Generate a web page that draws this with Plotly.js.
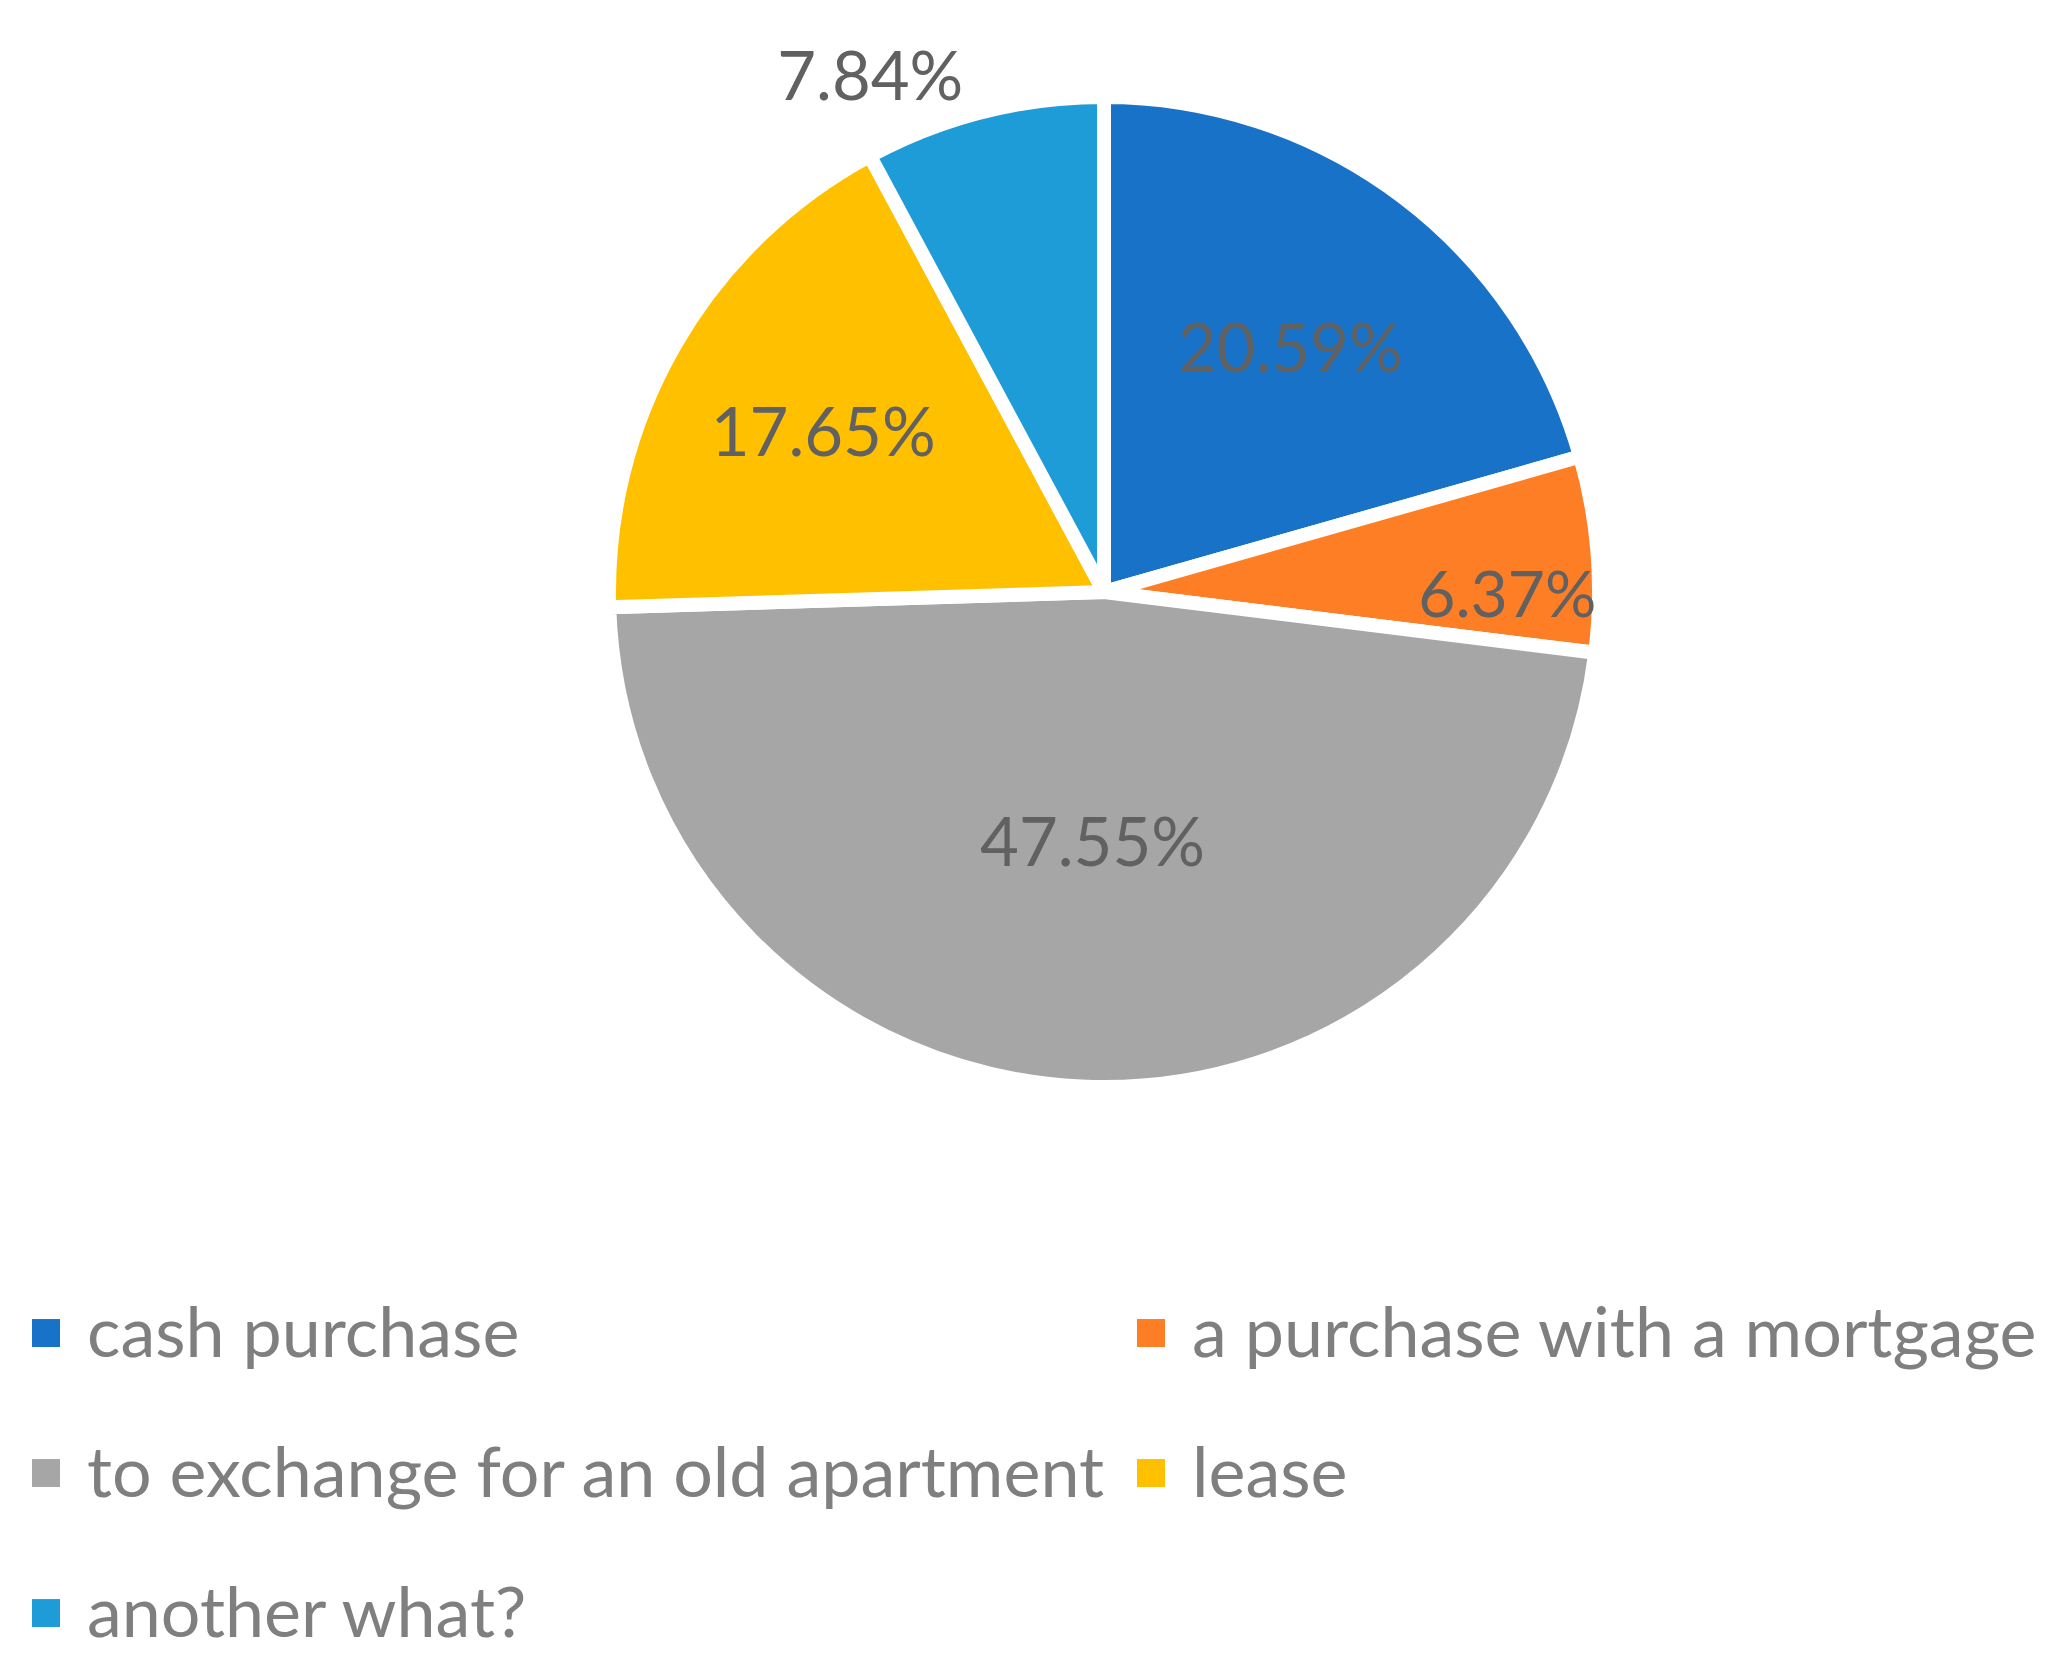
<!DOCTYPE html>
<html>
<head>
<meta charset="utf-8">
<script src="https://cdn.plot.ly/plotly-3.0.1.min.js"></script>
<style>
	body { margin: 0; background: #ffffff; }
	#frame { width: 2066px; height: 1679px; overflow: hidden; }
</style>
</head>
<body>
<div id="frame"><div id="chart"></div></div>
<script>
// Slices, clockwise from 12 o'clock
let labels = ["cash purchase", "a purchase with a mortgage", "to exchange for an old apartment", "lease", "another what?"]
let shares = [20.59, 6.37, 47.55, 17.65, 7.84]
let colors = ["#1873C8", "#FE7E26", "#A6A6A6", "#FFC000", "#1E9CD8"]
let label_pos = ["inside", "inside", "inside", "inside", "outside"]

// the page is narrower than the plot, so the two legend columns get enough room
let plot_width = 2400
let plot_height = 1679

// pie centre and radius in px, turned into a domain
let cx = 1104, cy = 592, rad = 495

// legend rows are spaced by the legend font size, the text itself is smaller
let legend_labels = labels.map(l => '<span style="font-size:70px">' + l + '</span>')

function show_pie() {

	let pie_data = [{
		type: "pie",
		labels: legend_labels,
		values: shares,
		sort: false,
		direction: "clockwise",
		rotation: 0,
		texttemplate: "%{value:.2f}%",
		textposition: label_pos,
		insidetextorientation: "horizontal",
		textfont: {family: "Lato, sans-serif", size: 67, color: "#616161"},
		outsidetextfont: {family: "Lato, sans-serif", size: 67, color: "#616161"},
		marker: {colors: colors, line: {color: "#ffffff", width: 14}},
		hoverinfo: "none",
		domain: {
			x: [(cx - rad) / plot_width, (cx + rad) / plot_width],
			y: [1 - (cy + rad) / plot_height, 1 - (cy - rad) / plot_height]
		}
	}]

	let pie_layout = {
		width: plot_width,
		height: plot_height,
		margin: {"t": 0, "b": 0, "l": 0, "r": 0},
		paper_bgcolor: "#ffffff",
		font: {family: "Lato, sans-serif", color: "#7F7F7F"},
		showlegend: true,
		legend: {
			orientation: "h",
			x: 5 / plot_width,
			xanchor: "left",
			y: 1 - 1241 / plot_height,
			yanchor: "top",
			font: {family: "Lato, sans-serif", size: 105.4, color: "#7F7F7F"},
			itemwidth: 72,
			entrywidth: 1018,
			entrywidthmode: "pixels",
			bgcolor: "rgba(0,0,0,0)"
		}
	}

	Plotly.newPlot("chart", pie_data, pie_layout, {displayModeBar: false, staticPlot: true}).then(function() {
		// bigger square legend keys, moved down to sit beside the smaller text
		document.querySelectorAll("#chart .legendpie").forEach(function(p) {
			p.setAttribute("transform", "translate(41,17) scale(2.33)")
			p.style.strokeWidth = "0"
		})
	})
}

show_pie()
</script>
</body>
</html>
